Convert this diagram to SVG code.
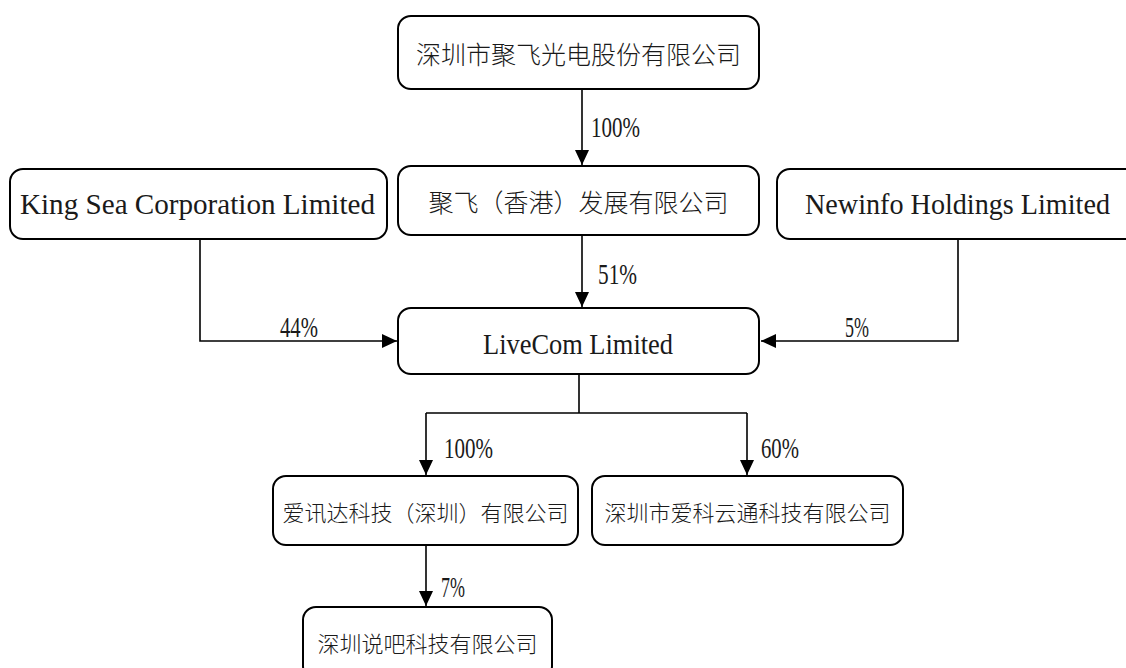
<svg xmlns="http://www.w3.org/2000/svg" width="1126" height="668" viewBox="0 0 1126 668">
<style>
.box{fill:#fff;stroke:#000;stroke-width:2}
.cjk{font-family:"Noto Sans CJK SC","Noto Sans",sans-serif;font-weight:300;fill:#1a1a1a;text-anchor:middle;dominant-baseline:central}
.big{font-size:25px}
.small{font-size:22px}
.lat{font-family:"Liberation Serif","Times New Roman",serif;font-size:30px;fill:#1a1a1a}
.mid{text-anchor:middle}
.conn{fill:none;stroke:#000;stroke-width:1.6}
</style>
<defs>
<marker id="ah" markerUnits="userSpaceOnUse" markerWidth="16" markerHeight="14" refX="15" refY="7" orient="auto">
<path d="M0,0 L15,7 L0,14 Z" fill="#000"/>
</marker>
</defs>
<rect width="1126" height="668" fill="#fff"/>
<g id="connectors">
<path class="conn" d="M582,89 V165" marker-end="url(#ah)"/>
<path class="conn" d="M582,235 V307" marker-end="url(#ah)"/>
<path class="conn" d="M200,239 V341 H397" marker-end="url(#ah)"/>
<path class="conn" d="M958,239 V341 H761" marker-end="url(#ah)"/>
<path class="conn" d="M579,374 V413 M426,413 H747"/>
<path class="conn" d="M426,413 V475" marker-end="url(#ah)"/>
<path class="conn" d="M747,413 V475" marker-end="url(#ah)"/>
<path class="conn" d="M426,545 V606" marker-end="url(#ah)"/>
</g>
<g id="labels">
<text class="lat" x="591" y="137" textLength="49" lengthAdjust="spacingAndGlyphs">100%</text>
<text class="lat" x="598" y="284" textLength="39" lengthAdjust="spacingAndGlyphs">51%</text>
<text class="lat" x="280" y="337" textLength="38" lengthAdjust="spacingAndGlyphs">44%</text>
<text class="lat" x="845" y="337" textLength="24" lengthAdjust="spacingAndGlyphs">5%</text>
<text class="lat" x="444" y="458" textLength="49" lengthAdjust="spacingAndGlyphs">100%</text>
<text class="lat" x="761" y="458" textLength="38" lengthAdjust="spacingAndGlyphs">60%</text>
<text class="lat" x="441" y="597" textLength="24" lengthAdjust="spacingAndGlyphs">7%</text>
</g>
<g id="n1">
<rect class="box" x="398" y="16" width="361" height="73" rx="13"/>
<text class="cjk big" x="578.5" y="52.5">深圳市聚飞光电股份有限公司</text>
</g>
<g id="n2">
<rect class="box" x="398" y="166" width="361" height="69" rx="13"/>
<text class="cjk big" x="578.5" y="200.5">聚飞（香港）发展有限公司</text>
</g>
<g id="n3">
<rect class="box" x="10" y="169" width="377" height="70" rx="13"/>
<text class="lat mid" x="197.5" y="214" textLength="355" lengthAdjust="spacingAndGlyphs">King Sea Corporation Limited</text>
</g>
<g id="n4">
<rect class="box" x="777" y="169" width="361" height="70" rx="13"/>
<text class="lat mid" x="957.5" y="214" textLength="305" lengthAdjust="spacingAndGlyphs">Newinfo Holdings Limited</text>
</g>
<g id="n5">
<rect class="box" x="398" y="308" width="361" height="66" rx="13"/>
<text class="lat mid" x="578" y="354" textLength="190" lengthAdjust="spacingAndGlyphs">LiveCom Limited</text>
</g>
<g id="n6">
<rect class="box" x="273" y="476" width="305" height="69" rx="13"/>
<text class="cjk small" x="425.5" y="510.5">爱讯达科技（深圳）有限公司</text>
</g>
<g id="n7">
<rect class="box" x="592" y="476" width="311" height="69" rx="13"/>
<text class="cjk small" x="747.5" y="510.5">深圳市爱科云通科技有限公司</text>
</g>
<g id="n8">
<rect class="box" x="303" y="607" width="249" height="72" rx="13"/>
<text class="cjk small" x="427.5" y="642">深圳说吧科技有限公司</text>
</g>
</svg>
